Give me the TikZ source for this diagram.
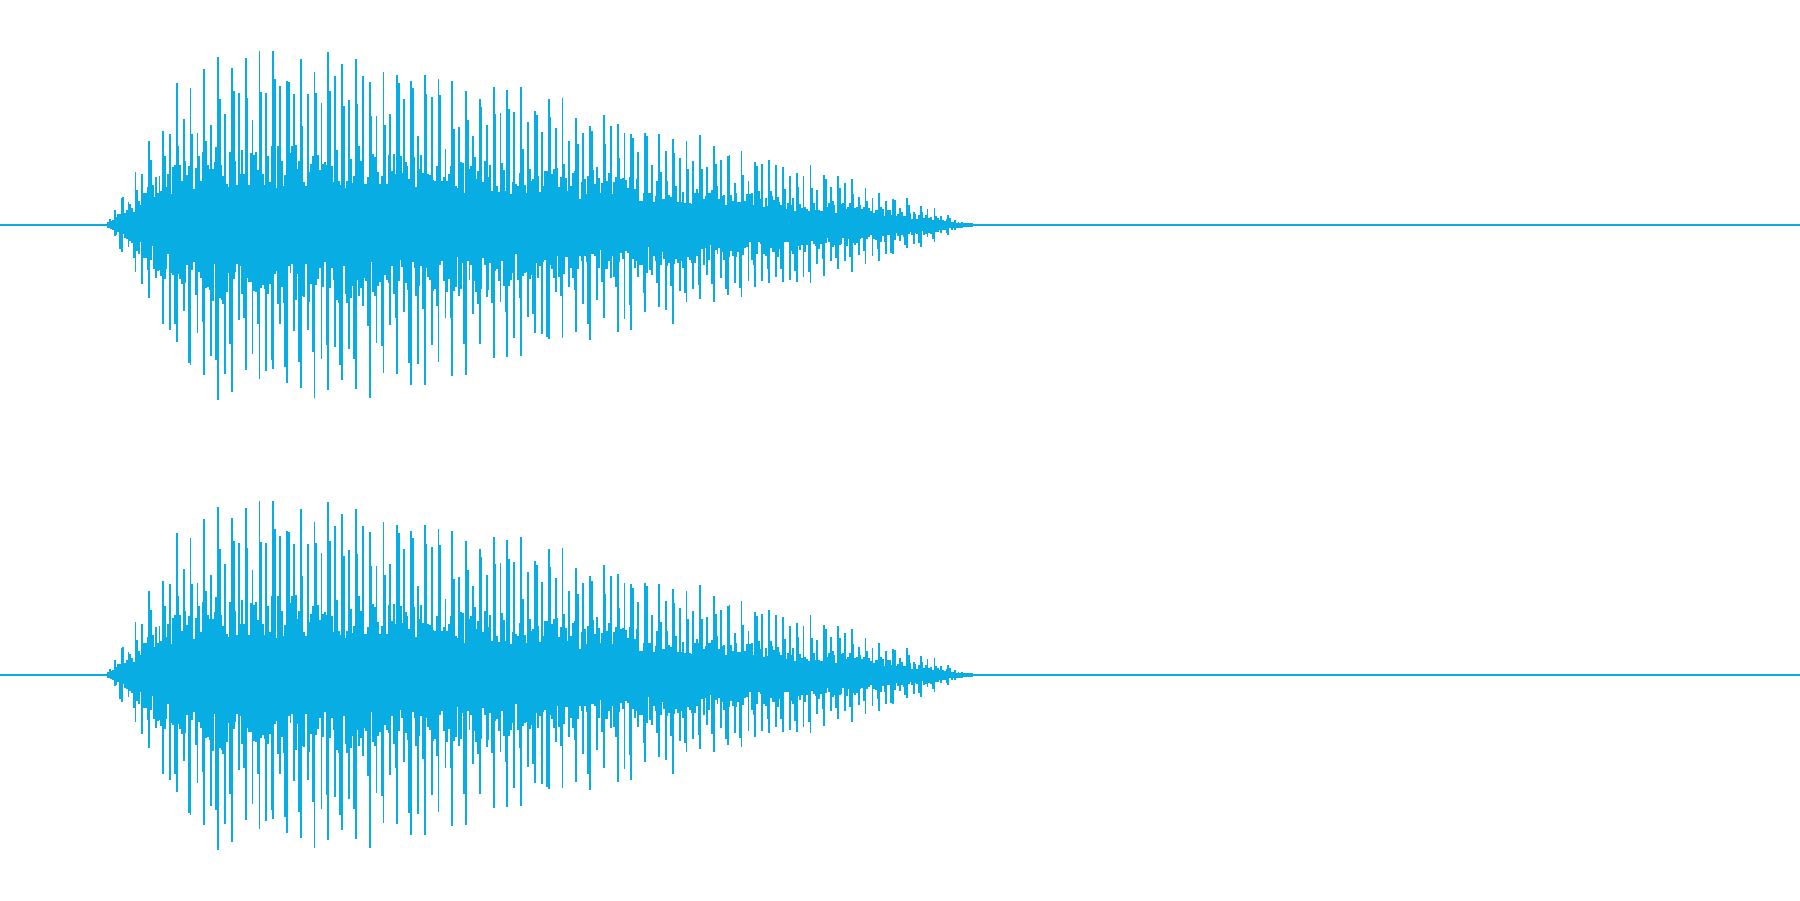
\documentclass[tikz,border=0pt]{standalone}
\usepackage{tikz}
\definecolor{wave}{HTML}{08AEE3}
\tikzset{
    baseline/.style = {draw=wave, line width=0.35pt},
    spike/.style    = {draw=wave, line width=0.45pt}
}
\begin{document}
\begin{tikzpicture}[x=0.01cm, y=-0.01cm]
    \useasboundingbox (0,0) rectangle (1568,784);

    % two channels, same signal
    \foreach \cy in {196,588} {
        \pgfmathsetseed{4711}
        \draw[baseline] (0,\cy) -- (1568,\cy);
        \foreach \i in {0,...,505} {
            \pgfmathsetmacro{\px}{94+1.5*\i}
            \pgfmathsetmacro{\env}{152*min(1,(\px-93)/75)*(\px<320 ? 1 : pow(max(0,(840-\px)/520),0.8))}
            \pgfmathsetmacro{\hi}{(mod(\i,8)==0 ? 0.78+0.22*rnd : (mod(\i,8)==1 || mod(\i,8)==4 ? 0.45+0.4*rnd : 0.2+0.25*rnd))*\env+1}
            \pgfmathsetmacro{\lo}{(mod(\i,8)==0 ? 0.78+0.22*rnd : (mod(\i,8)==7 || mod(\i,8)==4 ? 0.45+0.4*rnd : 0.2+0.25*rnd))*\env+1}
            \draw[spike] (\px,\cy-\hi) -- (\px,\cy+\lo);
        }
        \draw[baseline, line width=0.8pt] (820,\cy) -- (848,\cy);
    }
\end{tikzpicture}
\end{document}
